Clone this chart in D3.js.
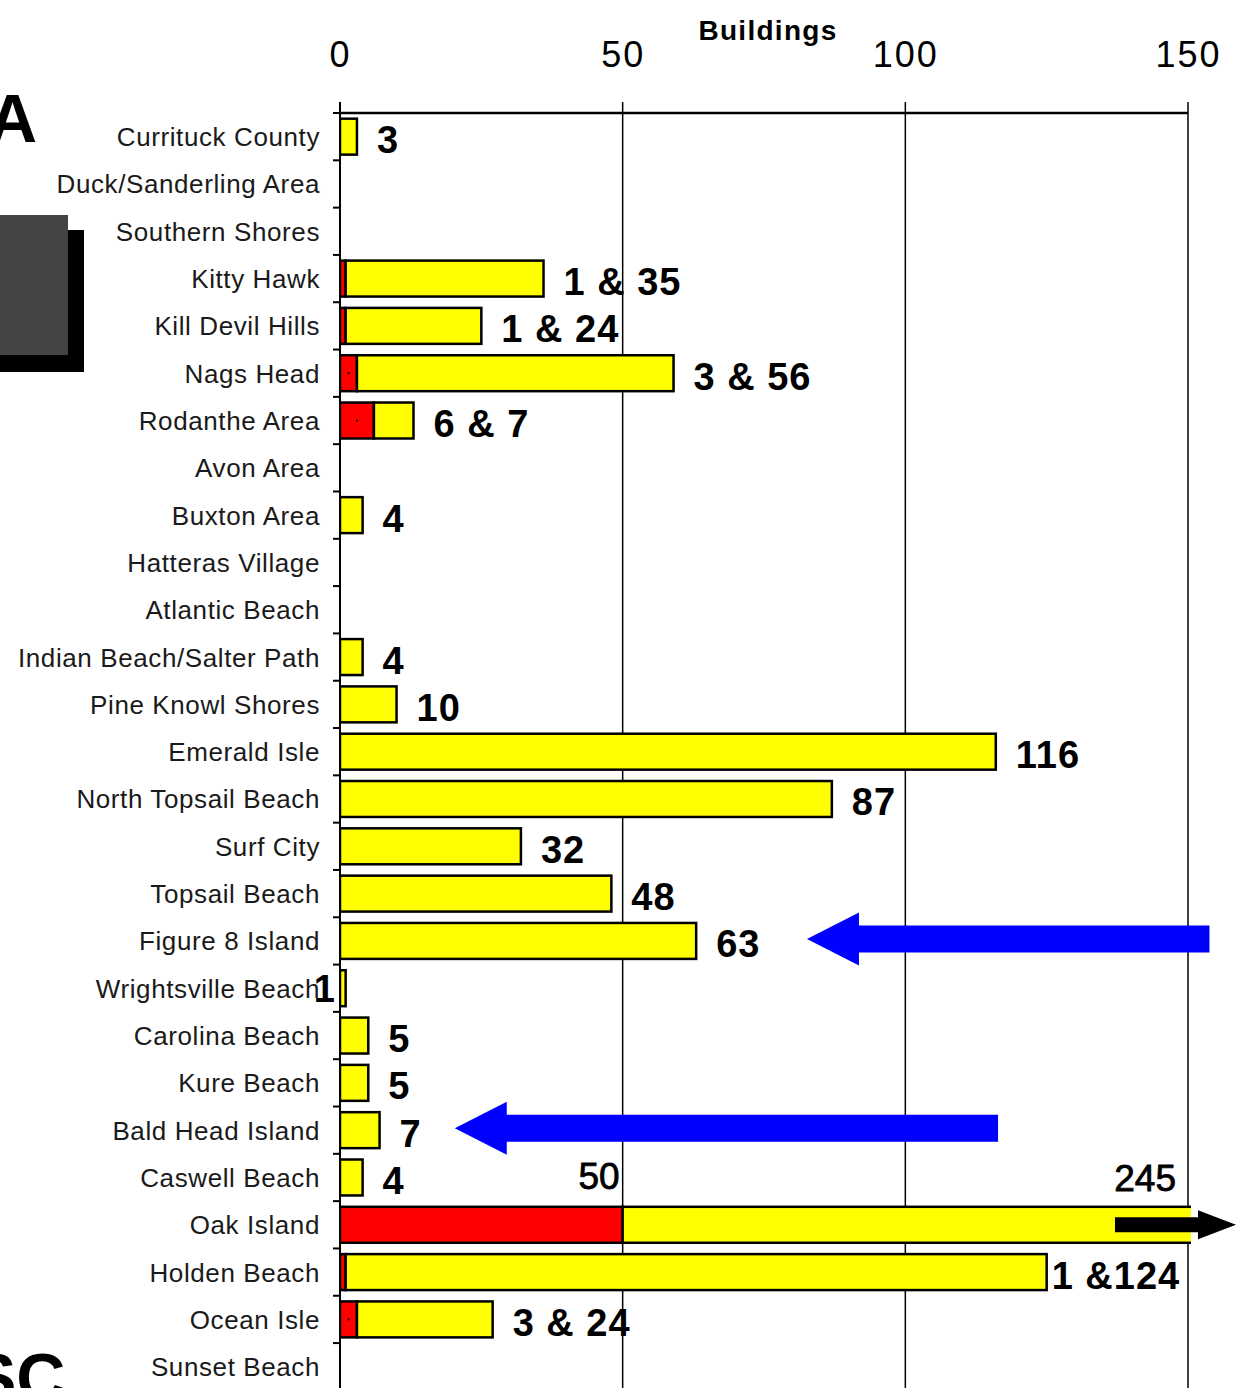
<!DOCTYPE html>
<html>
<head>
<meta charset="utf-8">
<script src="https://cdn.jsdelivr.net/npm/d3@7"></script>
<style>
  html, body { margin: 0; padding: 0; background: #fff; overflow: hidden; }
  svg { display: block; }
</style>
</head>
<body>
<svg id="chart" width="1236" height="1388"></svg>
<script>
// Communities along the coast, north to south
const categories = [
  "Currituck County", "Duck/Sanderling Area", "Southern Shores", "Kitty Hawk",
  "Kill Devil Hills", "Nags Head", "Rodanthe Area", "Avon Area", "Buxton Area",
  "Hatteras Village", "Atlantic Beach", "Indian Beach/Salter Path",
  "Pine Knowl Shores", "Emerald Isle", "North Topsail Beach", "Surf City",
  "Topsail Beach", "Figure 8 Island", "Wrightsville Beach", "Carolina Beach",
  "Kure Beach", "Bald Head Island", "Caswell Beach", "Oak Island",
  "Holden Beach", "Ocean Isle", "Sunset Beach"
];

// Buildings, first series (red)
const redValues = [0, 0, 0, 1, 1, 3, 6, 0, 0, 0, 0, 0, 0, 0, 0, 0, 0, 0, 0, 0, 0, 0, 0, 50, 1, 3, 0];
// Buildings, second series (yellow)
const yellowValues = [3, 0, 0, 35, 24, 56, 7, 0, 4, 0, 0, 4, 10, 116, 87, 32, 48, 63, 1, 5, 5, 7, 4, 245, 124, 24, 0];

// Value labels written beside the bars
const valueLabels = ["3", "", "", "1 & 35", "1 & 24", "3 & 56", "6 & 7", "", "4", "", "", "4", "10",
  "116", "87", "32", "48", "63", "1", "5", "5", "7", "4", "", "1 &124", "3 & 24", ""];

// Oak Island runs past the axis; its two counts are written above the bar
const oakLabels = ["50", "245"];

const xTicks = [0, 50, 100, 150];
const axisTitle = "Buildings";

// Pointer arrows (value coordinates along the x axis)
const pointers = [
  { row: "Figure 8 Island", from: 153.8, to: 82.6 },
  { row: "Bald Head Island", from: 116.4, to: 20.3 }
];

const svg = d3.select("#chart");
const W = 1236, H = 1388;

const x = d3.scaleLinear().domain([0, 150]).range([340, 1188]);
const y = d3.scaleBand().domain(categories).range([113, 113 + 27 * 47.31]).padding(0);
const barH = y.bandwidth() * 0.76;
const rowMid = c => y(c) + y.bandwidth() / 2;

const rows = categories.map((c, i) => ({ cat: c, red: redValues[i], yellow: yellowValues[i], label: valueLabels[i] }));
const stack = d3.stack().keys(["red", "yellow"]);
const series = stack(rows);
const colors = { red: "#ff0000", yellow: "#ffff00" };

// ---- decorations on the left edge
svg.append("rect").attr("x", 0).attr("y", 230).attr("width", 84).attr("height", 142).attr("fill", "#000");
svg.append("rect").attr("x", 0).attr("y", 215).attr("width", 68).attr("height", 140).attr("fill", "#444444");
svg.append("text").attr("x", -12).attr("y", 142)
  .attr("font-family", "Liberation Sans, Arial, sans-serif").attr("font-weight", "bold")
  .attr("font-size", 68).attr("fill", "#000").text("A");
svg.append("text").attr("x", -29).attr("y", 1401)
  .attr("font-family", "Liberation Sans, Arial, sans-serif").attr("font-weight", "bold")
  .attr("font-size", 68).attr("fill", "#000").text("SC");

// ---- grid and axes
const grid = svg.append("g");
xTicks.forEach(t => {
  grid.append("line").attr("x1", x(t)).attr("x2", x(t)).attr("y1", 102).attr("y2", H)
    .attr("stroke", "#000").attr("stroke-width", t === 0 ? 2 : 1.5);
});
grid.append("line").attr("x1", x(0)).attr("x2", x(150)).attr("y1", 113).attr("y2", 113)
  .attr("stroke", "#000").attr("stroke-width", 2.5);

// y-axis ticks at the row boundaries
const boundaries = categories.map(c => y(c));
grid.selectAll("line.ytick").data(boundaries).join("line").attr("class", "ytick")
  .attr("x1", x(0) - 7).attr("x2", x(0)).attr("y1", d => d).attr("y2", d => d)
  .attr("stroke", "#000").attr("stroke-width", 2);

// x tick labels on top
const xAxis = d3.axisTop(x).tickValues(xTicks).tickSize(0).tickPadding(0);
const gx = svg.append("g").attr("transform", "translate(0,67)").call(xAxis);
gx.select(".domain").remove();
gx.selectAll("text")
  .attr("font-family", "Liberation Sans, Arial, sans-serif")
  .attr("font-size", 36).attr("letter-spacing", 2)
  .attr("fill", "#000").attr("dy", 0);

svg.append("text").attr("x", (x(50) + x(100)) / 2 + 4).attr("y", 40)
  .attr("text-anchor", "middle")
  .attr("font-family", "Liberation Sans, Arial, sans-serif").attr("font-weight", "bold")
  .attr("font-size", 28).attr("letter-spacing", 1.3).attr("fill", "#000").text(axisTitle);

// category labels
svg.append("g").selectAll("text").data(categories).join("text")
  .attr("x", 320).attr("y", d => rowMid(d) + 9.5)
  .attr("text-anchor", "end")
  .attr("font-family", "Liberation Sans, Arial, sans-serif")
  .attr("font-size", 26).attr("letter-spacing", 0.6).attr("fill", "#1a1a1a")
  .text(d => d);

// ---- bars
const clipRight = x(150) + 3;
svg.append("clipPath").attr("id", "plotclip")
  .append("rect").attr("x", x(0)).attr("y", 0).attr("width", clipRight - x(0)).attr("height", H);

const bars = svg.append("g").attr("clip-path", "url(#plotclip)");
series.forEach(s => {
  bars.selectAll(null).data(s.filter(d => d[1] > d[0])).join("rect")
    .attr("x", d => x(d[0]))
    .attr("y", d => rowMid(d.data.cat) - barH / 2)
    .attr("width", d => x(d[1]) - x(d[0]))
    .attr("height", barH)
    .attr("fill", colors[s.key])
    .attr("stroke", "#000").attr("stroke-width", 2.5);
});
// small centre marks inside the red segments
bars.selectAll(null).data(series[0].filter(d => d[1] - d[0] >= 3 && d[1] < 20)).join("rect")
  .attr("x", d => (x(d[0]) + x(d[1])) / 2 - 1)
  .attr("y", d => rowMid(d.data.cat) - 1)
  .attr("width", 2).attr("height", 2).attr("fill", "#000");

// ---- value labels
const lblFont = "Liberation Sans, Arial, sans-serif";
const lbls = svg.append("g");
rows.forEach(r => {
  if (!r.label) return;
  const end = x(r.red + r.yellow);
  const t = lbls.append("text")
    .attr("y", rowMid(r.cat) + 3 + 13.5)
    .attr("font-family", lblFont).attr("font-weight", "bold")
    .attr("font-size", 38).attr("letter-spacing", 1).attr("fill", "#000")
    .text(r.label);
  if (r.cat === "Wrightsville Beach") {
    t.attr("x", x(0) - 4).attr("text-anchor", "end").attr("y", rowMid(r.cat) + 14);
  } else {
    let tx = end + 20;
    const w = t.node().getComputedTextLength();
    if (tx + w > x(150) - 8) tx = Math.max(end + 5, x(150) - 8 - w);
    t.attr("x", tx);
  }
});

// Oak Island: counts above the bar
const oak = rows.find(r => r.cat === "Oak Island");
const oakTop = rowMid(oak.cat) - barH / 2;
lbls.append("text").attr("x", x(oak.red) - 3).attr("y", oakTop - 18)
  .attr("text-anchor", "end").attr("font-family", lblFont).attr("font-size", 37)
  .attr("fill", "#000").attr("stroke", "#000").attr("stroke-width", 0.8).text(oakLabels[0]);
lbls.append("text").attr("x", x(150) - 12).attr("y", oakTop - 16)
  .attr("text-anchor", "end").attr("font-family", lblFont).attr("font-size", 37)
  .attr("fill", "#000").attr("stroke", "#000").attr("stroke-width", 0.8).text(oakLabels[1]);

// black arrow showing the Oak Island bar continues off scale
function arrowPath(xTail, xTip, cy, shaftHalf, headHalf, headLen) {
  const dir = xTip > xTail ? 1 : -1;
  const xb = xTip - dir * headLen;
  return `M${xTail},${cy - shaftHalf}L${xb},${cy - shaftHalf}L${xb},${cy - headHalf}L${xTip},${cy}` +
         `L${xb},${cy + headHalf}L${xb},${cy + shaftHalf}L${xTail},${cy + shaftHalf}Z`;
}
svg.append("path")
  .attr("d", arrowPath(1115, 1236, rowMid("Oak Island"), 7.5, 14.5, 38))
  .attr("fill", "#000");

// blue pointer arrows
svg.append("g").selectAll("path").data(pointers).join("path")
  .attr("d", p => arrowPath(x(p.from), x(p.to), rowMid(p.row) - 2, 13.5, 26.5, 52))
  .attr("fill", "#0000ff");
</script>
</body>
</html>
